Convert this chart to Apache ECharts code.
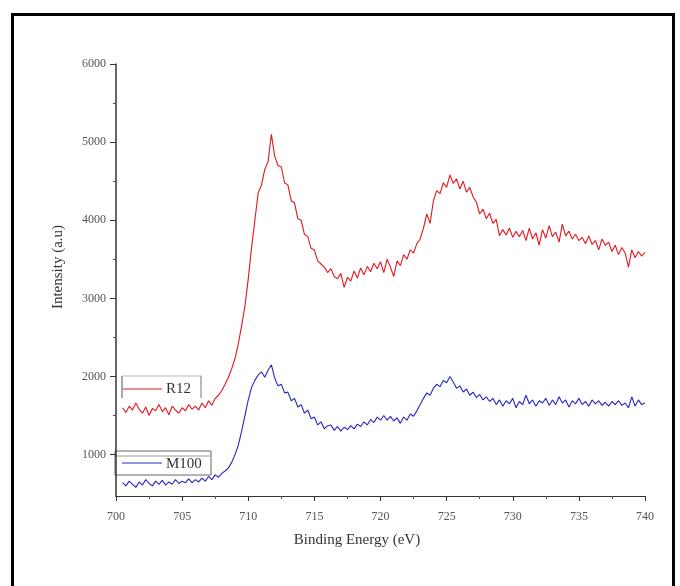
<!DOCTYPE html>
<html><head><meta charset="utf-8">
<script src="https://cdn.jsdelivr.net/npm/echarts@6/dist/echarts.min.js"></script>
<style>html,body{margin:0;padding:0;background:#fff}#c{width:680px;height:586px}</style>
</head><body><div id="c"></div>
<script>
const energy = [700.5,700.75,701,701.25,701.5,701.75,702,702.25,702.5,702.75,703,703.25,703.5,703.75,704,704.25,704.5,704.75,705,705.25,705.5,705.75,706,706.25,706.5,706.75,707,707.25,707.5,707.75,708,708.25,708.5,708.75,709,709.25,709.5,709.75,710,710.25,710.5,710.75,711,711.25,711.5,711.75,712,712.25,712.5,712.75,713,713.25,713.5,713.75,714,714.25,714.5,714.75,715,715.25,715.5,715.75,716,716.25,716.5,716.75,717,717.25,717.5,717.75,718,718.25,718.5,718.75,719,719.25,719.5,719.75,720,720.25,720.5,720.75,721,721.25,721.5,721.75,722,722.25,722.5,722.75,723,723.25,723.5,723.75,724,724.25,724.5,724.75,725,725.25,725.5,725.75,726,726.25,726.5,726.75,727,727.25,727.5,727.75,728,728.25,728.5,728.75,729,729.25,729.5,729.75,730,730.25,730.5,730.75,731,731.25,731.5,731.75,732,732.25,732.5,732.75,733,733.25,733.5,733.75,734,734.25,734.5,734.75,735,735.25,735.5,735.75,736,736.25,736.5,736.75,737,737.25,737.5,737.75,738,738.25,738.5,738.75,739,739.25,739.5,739.75,740];
const r12 = [1600,1540,1620,1570,1660,1580,1530,1610,1500,1590,1560,1640,1550,1600,1510,1620,1570,1530,1600,1560,1640,1580,1620,1570,1660,1600,1690,1630,1720,1760,1820,1900,1990,2100,2230,2420,2650,2900,3250,3650,4000,4350,4450,4650,4750,5100,4820,4700,4680,4480,4450,4250,4220,4020,4000,3820,3790,3640,3620,3480,3440,3400,3330,3380,3280,3250,3320,3140,3270,3220,3350,3260,3390,3300,3410,3340,3450,3380,3470,3330,3500,3400,3280,3480,3420,3560,3500,3620,3580,3700,3760,3900,4080,3960,4250,4380,4340,4480,4420,4580,4470,4530,4400,4500,4360,4420,4300,4230,4080,4140,4020,4090,3960,4010,3800,3880,3810,3900,3780,3860,3790,3870,3740,3900,3760,3840,3680,3880,3770,3930,3790,3850,3720,3950,3800,3860,3760,3820,3740,3780,3700,3800,3690,3740,3620,3760,3680,3720,3600,3680,3560,3650,3580,3400,3620,3520,3600,3540,3590];
const m100 = [640,600,660,620,580,650,610,680,630,600,660,620,670,610,650,620,680,630,660,640,690,640,680,650,700,660,720,680,740,710,760,790,830,900,1000,1120,1300,1500,1700,1860,1950,2020,2060,1990,2080,2150,1980,1880,1900,1790,1800,1690,1720,1610,1640,1530,1570,1460,1480,1380,1420,1330,1370,1380,1310,1360,1300,1350,1320,1370,1330,1390,1360,1420,1380,1450,1410,1480,1440,1500,1440,1490,1430,1470,1400,1480,1440,1520,1490,1560,1640,1720,1790,1760,1850,1900,1870,1950,1920,2000,1930,1850,1880,1800,1840,1760,1800,1730,1770,1700,1740,1680,1720,1640,1700,1620,1690,1650,1720,1600,1680,1640,1760,1650,1700,1620,1690,1660,1720,1630,1700,1640,1740,1660,1700,1610,1690,1650,1720,1640,1680,1620,1700,1650,1690,1630,1670,1620,1680,1640,1690,1630,1660,1600,1740,1620,1700,1640,1660];
const yMajor = [1000,2000,3000,4000,5000,6000];
const yMinor = [1500,2500,3500,4500,5500];
const seriesNames = ['R12','M100'];
const seriesColors = ['#e4161e','#2626c4'];

const serif = 'Liberation Serif, DejaVu Serif, serif';
const chart = echarts.init(document.getElementById('c'), null, {renderer:'canvas'});
function pairs(xs, ys){ return xs.map((x,i)=>[x, ys[i]]); }
chart.setOption({
  animation:false,
  backgroundColor:'#fff',
  grid:{left:116, right:35, top:64, bottom:90},
  xAxis:[{
    type:'value', min:700, max:740, interval:5,
    axisLine:{lineStyle:{color:'#333', width:1.2}},
    axisTick:{length:5, lineStyle:{color:'#333'}},
    minorTick:{show:true, splitNumber:2, length:3, lineStyle:{color:'#555'}},
    splitLine:{show:false},
    axisLabel:{fontFamily:serif, fontSize:12, color:'#555', margin:15, formatter:v=>String(v)}
  }],
  yAxis:[{
    type:'value', min:470, max:6000,
    axisLine:{show:true, lineStyle:{color:'#333', width:1.5}},
    axisTick:{show:true, length:6, customValues:yMajor, lineStyle:{color:'#333'}},
    axisLabel:{fontFamily:serif, fontSize:12, color:'#555', margin:10, customValues:yMajor, formatter:v=>String(v)},
    splitLine:{show:false}
  },{
    type:'value', min:470, max:6000, position:'left', offset:0,
    axisLine:{show:false},
    axisTick:{show:true, length:3, customValues:yMinor, lineStyle:{color:'#555'}},
    axisLabel:{show:false, customValues:yMinor},
    splitLine:{show:false}
  }],
  series:[
    {name:seriesNames[0], type:'line', showSymbol:false, data:pairs(energy, r12),
     lineStyle:{width:1.1, color:seriesColors[0]}, itemStyle:{color:seriesColors[0]}},
    {name:seriesNames[1], type:'line', showSymbol:false, data:pairs(energy, m100),
     lineStyle:{width:1.1, color:seriesColors[1]}, itemStyle:{color:seriesColors[1]}}
  ],
  graphic:[
    {type:'rect', left:10, top:12, shape:{width:661, height:620}, style:{fill:null, stroke:'#000', lineWidth:3}, silent:true},
    {type:'text', x:58, y:267, rotation:Math.PI/2, style:{text:'Intensity (a.u)', font:'15px '+serif, fill:'#333', align:'center', verticalAlign:'middle'}},
    {type:'text', x:357, y:540, style:{text:'Binding Energy (eV)', font:'15px '+serif, fill:'#333', align:'center', verticalAlign:'middle'}},
    {type:'line', shape:{x1:122, y1:376, x2:202, y2:376}, style:{stroke:'#bbb', lineWidth:1}},
    {type:'line', shape:{x1:122, y1:376, x2:122, y2:398}, style:{stroke:'#555', lineWidth:1}},
    {type:'line', shape:{x1:201, y1:376, x2:201, y2:398}, style:{stroke:'#777', lineWidth:1}},
    {type:'line', shape:{x1:123, y1:389, x2:162, y2:389}, style:{stroke:seriesColors[0], lineWidth:1}},
    {type:'text', x:166, y:389, style:{text:seriesNames[0], font:'15px '+serif, fill:'#333', verticalAlign:'middle'}},
    {type:'rect', shape:{x:115, y:451, width:96, height:24}, style:{fill:null, stroke:'#666', lineWidth:1}},
    {type:'line', shape:{x1:115, y1:456, x2:211, y2:456}, style:{stroke:'#999', lineWidth:1}},
    {type:'line', shape:{x1:122, y1:463, x2:162, y2:463}, style:{stroke:seriesColors[1], lineWidth:1}},
    {type:'text', x:166, y:464, style:{text:seriesNames[1], font:'15px '+serif, fill:'#333', verticalAlign:'middle'}}
  ]
});
</script></body></html>
